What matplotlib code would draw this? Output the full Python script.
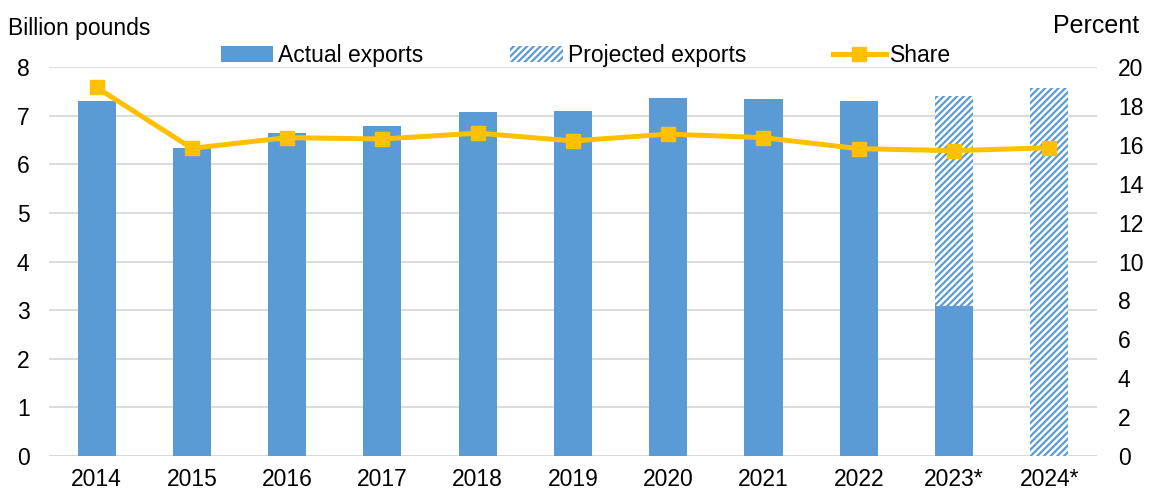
import numpy as np
import matplotlib.pyplot as plt
from matplotlib.patches import Patch
from matplotlib.lines import Line2D

plt.rcParams['font.family'] = ['Liberation Sans', 'DejaVu Sans']
plt.rcParams['hatch.linewidth'] = 1.6

years = ['2014', '2015', '2016', '2017', '2018', '2019', '2020', '2021',
         '2022', '2023*', '2024*']
actual = [7.30, 6.33, 6.65, 6.79, 7.08, 7.10, 7.37, 7.35, 7.30, 3.09, 0.0]
projected = [0, 0, 0, 0, 0, 0, 0, 0, 0, 7.40, 7.57]
share = [18.95, 15.82, 16.37, 16.3, 16.6, 16.2, 16.55, 16.37, 15.8, 15.7, 15.85]

blue = '#5B9BD5'
gold = '#FFC000'
grid = '#D9D9D9'
fs = 16.5

fig = plt.figure(figsize=(11.49, 4.95), dpi=100)
ax = fig.add_axes([0.0426, 0.0788, 0.9121, 0.7858])
x = np.arange(len(years))
w = 0.4

# projected totals first, the actual part sits on top of them
ax.bar(x, projected, width=w, color='white', edgecolor=blue,
       hatch='/////', linewidth=0, zorder=2)
ax.bar(x, actual, width=w, color=blue, linewidth=0, zorder=3)

ax.set_ylim(0, 8)
ax.set_xlim(-0.5, len(years) - 0.5)
ax.set_yticks(range(0, 9))
ax.set_xticks(x)
ax.set_xticklabels(years)
ax.yaxis.grid(True, color=grid, linewidth=1.3, zorder=0)
ax.set_axisbelow(True)
for s in ax.spines.values():
    s.set_visible(False)
ax.axhline(0, color=grid, linewidth=1.3, zorder=1)
ax.tick_params(axis='x', length=0, labelsize=fs, pad=9)
ax.tick_params(axis='y', length=0, labelsize=fs, pad=14)

ax2 = ax.twinx()
ax2.plot(x, share, color=gold, linewidth=3.6, marker='s', markersize=10,
         zorder=4)
ax2.set_ylim(0, 20)
ax2.set_yticks(range(0, 21, 2))
ax2.tick_params(axis='y', length=0, labelsize=fs, pad=15)
for s in ax2.spines.values():
    s.set_visible(False)

fig.text(0.007, 0.943, 'Billion pounds', fontsize=fs, ha='left', va='center')
fig.text(0.991, 0.947, 'Percent', fontsize=18, ha='right', va='center')

handles = [
    Patch(facecolor=blue, edgecolor='none', label='Actual exports'),
    Patch(facecolor='white', edgecolor=blue, hatch='/////', linewidth=0,
          label='Projected exports'),
    Line2D([0], [0], color=gold, linewidth=3.6, marker='s', markersize=10,
           label='Share'),
]
fig.legend(handles=handles, loc='center', bbox_to_anchor=(0.510, 0.888),
           ncol=3, frameon=False, fontsize=fs, columnspacing=3.8,
           handlelength=2.3, handleheight=0.7, handletextpad=0.2)

fig.savefig('out.png', dpi=100)
